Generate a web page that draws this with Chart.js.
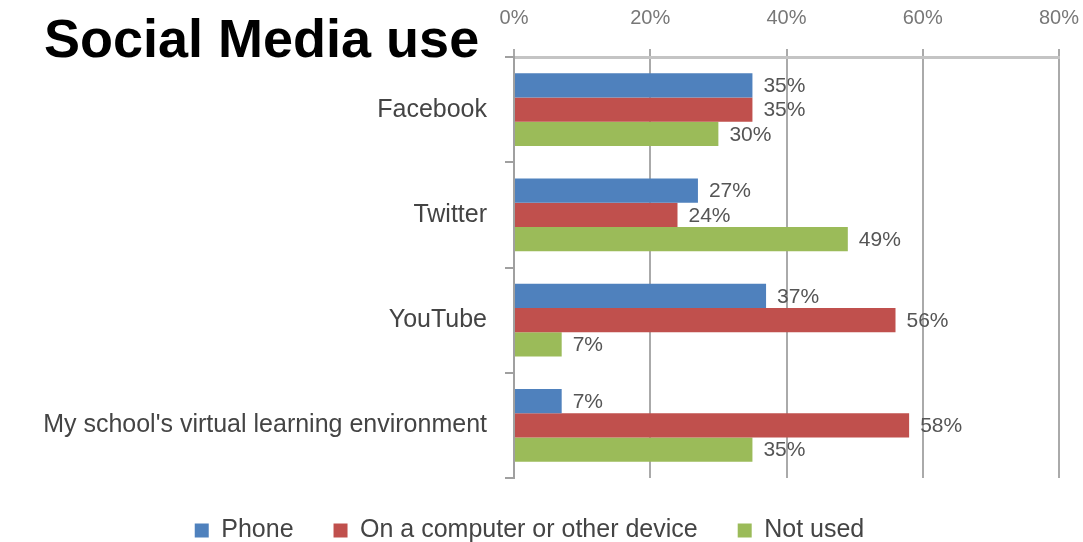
<!DOCTYPE html>
<html>
<head>
<meta charset="utf-8">
<script src="https://cdn.jsdelivr.net/npm/chart.js@4/dist/chart.umd.min.js"></script>
<style>
    body { margin: 0; background: #fff; }
    #wrap { width: 1083px; height: 542px; position: relative; }
</style>
</head>
<body>
<div id="wrap"><canvas id="socialChart"></canvas></div>
<script>
// ==================== DATA ====================
const categories = ['Facebook', 'Twitter', 'YouTube', "My school's virtual learning environment"];
const phoneValues = [35, 27, 37, 7];
const computerValues = [35, 24, 56, 58];
const notUsedValues = [30, 49, 7, 35];
const xTicks = [0, 20, 40, 60, 80];
const chartTitle = 'Social Media use';

const FONT = '"Liberation Sans", Arial, sans-serif';

// title in the top-left corner, outside the plot
const titlePlugin = {
    id: 'cornerTitle',
    afterDraw(chart) {
        const ctx = chart.ctx;
        ctx.save();
        ctx.font = 'bold 54px ' + FONT;
        ctx.fillStyle = '#000';
        ctx.textAlign = 'left';
        ctx.textBaseline = 'alphabetic';
        ctx.fillText(chartTitle, 44, 57);
        ctx.restore();
    }
};

// value labels at the end of each bar
const valueLabels = {
    id: 'valueLabels',
    afterDatasetsDraw(chart) {
        const ctx = chart.ctx;
        ctx.save();
        ctx.font = '21px ' + FONT;
        ctx.fillStyle = '#555';
        ctx.textAlign = 'left';
        ctx.textBaseline = 'middle';
        chart.data.datasets.forEach((ds, i) => {
            chart.getDatasetMeta(i).data.forEach((bar, j) => {
                ctx.fillText(ds.data[j] + '%', bar.x + 11, bar.y + 1);
            });
        });
        ctx.restore();
    }
};

// squeeze legend box so the plot keeps its height
const legendFit = {
    id: 'legendFit',
    beforeInit(chart) {
        const origFit = chart.legend.fit;
        chart.legend.fit = function () {
            origFit.bind(chart.legend)();
            this.height = 64;
        };
    }
};

const ctx = document.getElementById('socialChart').getContext('2d');
new Chart(ctx, {
    type: 'bar',
    data: {
        labels: categories,
        datasets: [
            { label: 'Phone', data: phoneValues, backgroundColor: '#4f81bd' },
            { label: 'On a computer or other device', data: computerValues, backgroundColor: '#c0504d' },
            { label: 'Not used', data: notUsedValues, backgroundColor: '#9bbb59' }
        ]
    },
    options: {
        indexAxis: 'y',
        responsive: true,
        maintainAspectRatio: false,
        animation: false,
        layout: { padding: { left: 0, right: 24, top: 0, bottom: 0 } },
        datasets: { bar: { categoryPercentage: 0.69, barPercentage: 1.0 } },
        plugins: {
            title: { display: false },
            tooltip: { enabled: false },
            legend: {
                position: 'bottom',
                labels: {
                    boxWidth: 14,
                    boxHeight: 14,
                    padding: 40,
                    color: '#444',
                    font: { family: FONT, size: 25 }
                }
            }
        },
        scales: {
            x: {
                position: 'top',
                min: 0,
                max: 80,
                afterFit: (scale) => {
                    scale.height = 57;
                    scale.paddingRight = 0;
                    scale.paddingLeft = 0;
                },
                afterBuildTicks: (scale) => { scale.ticks = xTicks.map(v => ({ value: v })); },
                ticks: {
                    padding: 19,
                    color: '#777',
                    font: { family: FONT, size: 20 },
                    callback: (v) => v + '%'
                },
                grid: { color: '#aaaaaa', lineWidth: 2, tickLength: 8 },
                border: { color: '#c4c4c4', width: 3 }
            },
            y: {
                afterFit: (scale) => { scale.width = 514; },
                ticks: {
                    padding: 18,
                    color: '#444',
                    font: { family: FONT, size: 25 }
                },
                grid: { drawOnChartArea: false, tickLength: 9, color: '#a0a0a0', lineWidth: 2 },
                border: { color: '#a0a0a0', width: 2 }
            }
        }
    },
    plugins: [titlePlugin, valueLabels, legendFit]
});
</script>
</body>
</html>
